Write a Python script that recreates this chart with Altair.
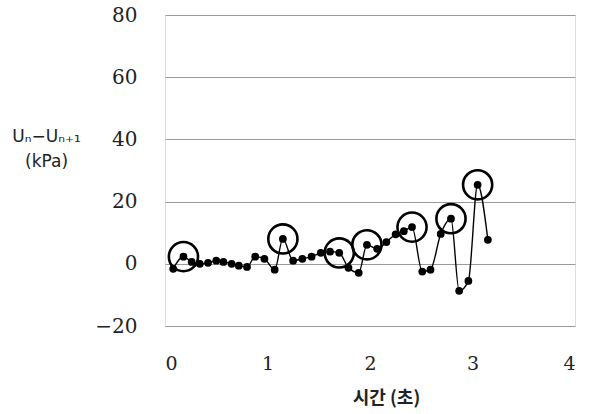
import altair as alt
import pandas as pd

# time (s) and Un - Un+1 (kPa)
t = [0.08, 0.18, 0.26, 0.34, 0.42, 0.50, 0.57, 0.65, 0.72, 0.80,
     0.88, 0.97, 1.07, 1.15, 1.25, 1.34, 1.43, 1.52, 1.61, 1.70,
     1.79, 1.89, 1.97, 2.07, 2.16, 2.25, 2.33, 2.41, 2.51, 2.59,
     2.69, 2.79, 2.87, 2.96, 3.05, 3.15]
v = [-1.6, 2.3, 0.6, 0.0, 0.3, 1.0, 0.6, 0.0, -0.6, -1.0,
     2.3, 1.6, -1.9, 8.0, 1.0, 1.6, 2.3, 3.5, 3.9, 3.5,
     -1.3, -2.9, 6.1, 4.8, 7.0, 9.5, 10.5, 11.8, -2.5, -1.9,
     9.6, 14.5, -8.7, -5.5, 25.4, 7.7]
circled_times = [0.18, 1.15, 1.70, 1.97, 2.41, 2.79, 3.05]

df = pd.DataFrame({"t": t, "v": v})
df["circled"] = df["t"].isin(circled_times)

SERIF = "DejaVu Serif"

x_enc = alt.X("t:Q", scale=alt.Scale(domain=[0, 4], nice=False),
              axis=alt.Axis(values=[0, 1, 2, 3, 4], format="d", grid=False, ticks=False, domain=False,
                            labelFont=SERIF, labelFontSize=19, labelColor="#222",
                            labelPadding=28,
                            title="시간 (초)", titleFont="Noto Sans CJK KR", titleFontSize=18,
                            titleFontWeight="bold", titleColor="#222",
                            titleX=221, titleY=72, titleBaseline="middle", titleAlign="center"))
y_enc = alt.Y("v:Q", scale=alt.Scale(domain=[-20, 80], nice=False),
              axis=alt.Axis(values=[-20, 0, 20, 40, 60, 80], format="d", grid=True, gridColor="#9a9a9a",
                            gridWidth=1, ticks=False, domain=False,
                            labelFont=SERIF, labelFontSize=20, labelColor="#222",
                            labelPadding=28,
                            title=["Uₙ−Uₙ₊₁", "(kPa)"], titleFont="DejaVu Sans",
                            titleFontSize=17, titleFontWeight="normal", titleColor="#222",
                            titleAngle=0, titleX=-119, titleY=113, titleAlign="center",
                            titleBaseline="top", titleLineHeight=25))

line = alt.Chart(df).mark_line(color="black", strokeWidth=1.4, interpolate="monotone").encode(
    x=x_enc, y=y_enc)
dots = alt.Chart(df).mark_circle(color="black", size=60, opacity=1).encode(x="t:Q", y="v:Q")
rings = alt.Chart(df).transform_filter(alt.datum.circled).mark_point(
    shape="circle", filled=False, color="black", size=850, strokeWidth=2.6, opacity=1
).encode(x="t:Q", y="v:Q")

chart = alt.layer(line, dots, rings).properties(
    width=410, height=311,
    autosize=alt.AutoSizeParams(type="none"),
    padding={"left": 165, "top": 15, "right": 15, "bottom": 88},
).configure_view(stroke="black", strokeWidth=1.5).configure(background="white")

chart.save("out.html", embed_options={"renderer": "svg", "actions": False})
